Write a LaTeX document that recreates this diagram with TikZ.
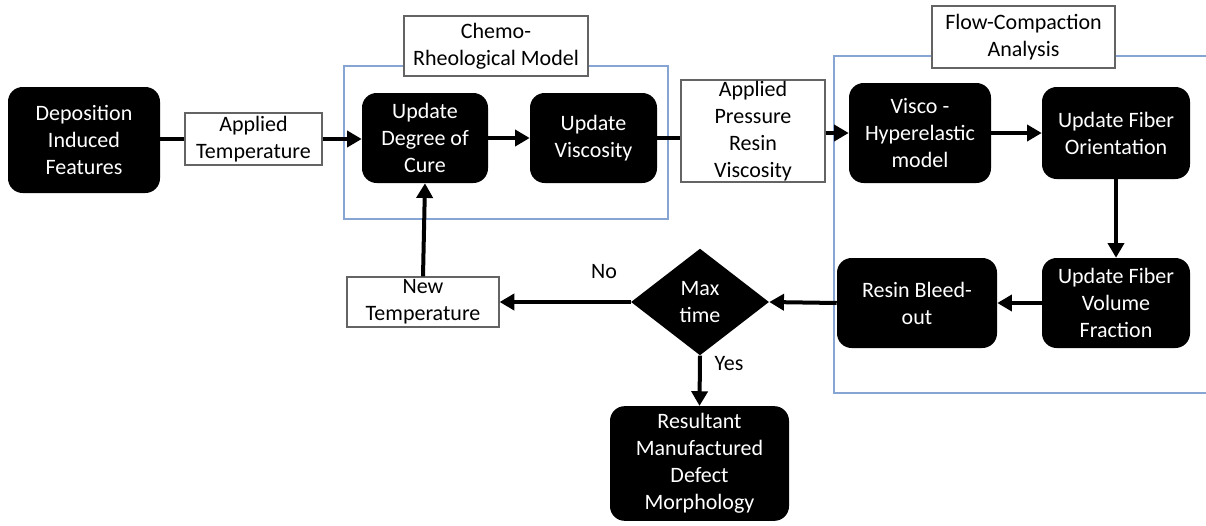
\documentclass[tikz,border=0pt]{standalone}
\usepackage{fontspec}
\setmainfont{Carlito}
\usetikzlibrary{arrows.meta,shapes.geometric}
\definecolor{frameblue}{RGB}{135,165,210}
\definecolor{boxgray}{RGB}{100,100,100}
\begin{document}
\begin{tikzpicture}[x=0.75pt,y=-0.75pt,
  font=\fontsize{16.5}{20.2}\selectfont,
  blk/.style={fill=black, text=white, rounded corners=11pt, align=center, inner sep=0pt},
  wbox/.style={draw=boxgray, fill=white, align=center, line width=0.9pt, inner sep=0pt},
  link/.style={line width=3pt},
  arr/.style={line width=3pt, -{Triangle[length=11pt,width=12pt]}},
  grp/.style={draw=frameblue, line width=1.1pt}]
\useasboundingbox (0,0) rectangle (1206,525);

% group frames
\draw[grp] (344,66) rectangle (668,219);
\draw[grp] (1206,56) -- (834,56) -- (834,393) -- (1206,393);

% nodes
\node[blk, minimum width=114pt, minimum height=79.5pt] (dep) at (84,140) {Deposition\\Induced\\Features};
\node[wbox, minimum width=102.75pt, minimum height=39pt] (atemp) at (253.5,139) {Applied\\Temperature};
\node[wbox, minimum width=138pt, minimum height=45pt] (chemo) at (496,46) {Chemo-\\Rheological Model};
\node[blk, minimum width=94.5pt, minimum height=67.5pt] (cure) at (425,138) {Update\\Degree of\\Cure};
\node[blk, minimum width=95.25pt, minimum height=67.5pt] (visc) at (593.5,138) {Update\\Viscosity};
\node[wbox, minimum width=108pt, minimum height=76.5pt] (apres) at (753,131) {Applied\\Pressure\\Resin\\Viscosity};
\node[wbox, minimum width=137.25pt, minimum height=46.5pt] (flow) at (1023.5,37) {Flow-Compaction\\Analysis};
\node[blk, minimum width=106.5pt, minimum height=75pt] (visco) at (920,133) {Visco -\\Hyperelastic\\model};
\node[blk, minimum width=111pt, minimum height=69pt] (orient) at (1116,133) {Update Fiber\\Orientation};
\node[blk, minimum width=111pt, minimum height=67.5pt] (vol) at (1116,303) {Update Fiber\\Volume\\Fraction};
\node[blk, minimum width=120pt, minimum height=67.5pt] (bleed) at (917,303) {Resin Bleed-\\out};
\node[diamond, fill=black, text=white, align=center, inner sep=0pt, shape aspect=1.29,
      minimum width=103.5pt, minimum height=80pt] (maxt) at (700,302) {Max\\time};
\node[wbox, minimum width=114pt, minimum height=37.5pt] (ntemp) at (423,302) {New\\Temperature};
\node[blk, minimum width=134.25pt, minimum height=86pt] (res) at (699.5,463.5) {Resultant\\Manufactured\\Defect\\Morphology};

\node (no) at (604,272) {No};
\node (yes) at (729,364) {Yes};

% connectors
\draw[link] (dep.east |- atemp.west) -- (atemp.west);
\draw[arr] (atemp.east) -- (cure.west |- atemp.east);
\draw[arr] (cure.east) -- (visc.west);
\draw[link] (visc.east) -- (apres.west |- visc.east);
\draw[arr] (apres.east |- visco.west) -- (visco.west);
\draw[arr] (visco.east) -- (orient.west);
\draw[arr] (orient.south) -- (vol.north);
\draw[arr] (vol.west) -- (bleed.east);
\draw[arr] (bleed.west) -- (maxt.east);
\draw[arr] (maxt.west) -- (ntemp.east);
\draw[arr] (ntemp.north) -- (cure.south);
\draw[arr] (maxt.south) -- (res.north);
\end{tikzpicture}
\end{document}
